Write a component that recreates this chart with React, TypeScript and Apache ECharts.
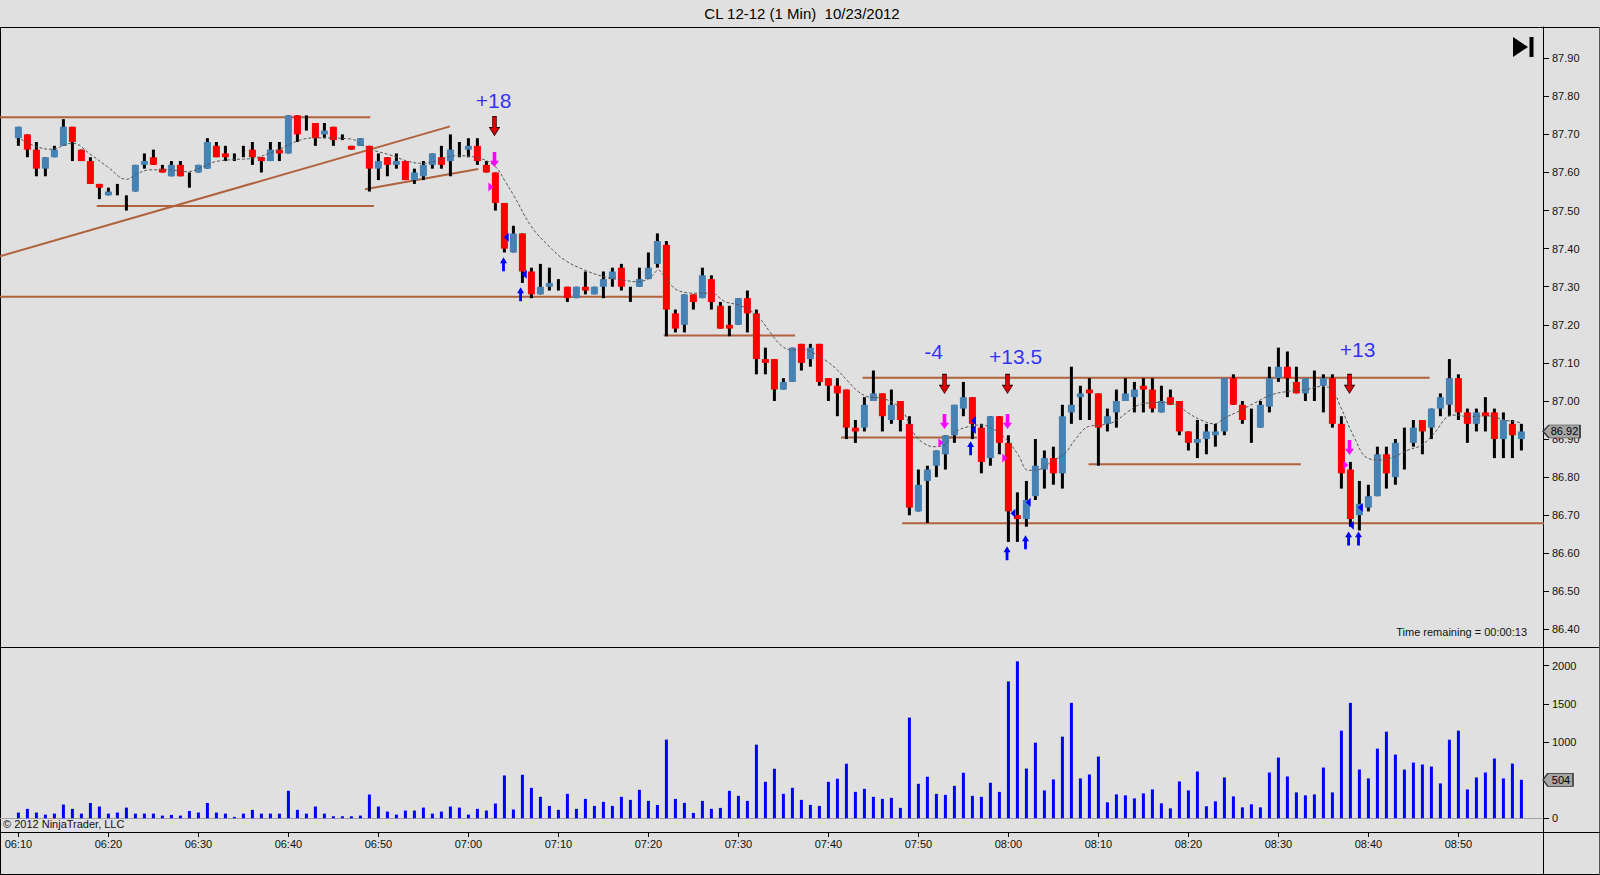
import React, { useEffect, useRef } from "react";
import * as echarts from "echarts";

// ---------- data ----------
const timeLabels = ["06:10", "06:20", "06:30", "06:40", "06:50", "07:00", "07:10", "07:20", "07:30", "07:40", "07:50", "08:00", "08:10", "08:20", "08:30", "08:40", "08:50"];
const tickIndex = [0, 10, 20, 30, 40, 50, 60, 70, 80, 90, 100, 110, 120, 130, 140, 150, 160];

const opens = [
  87.69, 87.70, 87.66, 87.61, 87.64, 87.67, 87.72, 87.66, 87.63, 87.57,
  87.54, 87.55, 87.53, 87.55, 87.62, 87.64, 87.61, 87.59, 87.62, 87.60,
  87.60, 87.61, 87.67, 87.65, 87.64, 87.655, 87.66, 87.64, 87.63, 87.66,
  87.65, 87.75, 87.72, 87.73, 87.70, 87.72, 87.70, 87.67, 87.67, 87.67,
  87.61, 87.64, 87.62, 87.63, 87.58, 87.59, 87.62, 87.64, 87.63, 87.66,
  87.66, 87.67, 87.62, 87.60, 87.52, 87.39, 87.44, 87.34, 87.28, 87.30,
  87.31, 87.30, 87.27, 87.30, 87.28, 87.30, 87.32, 87.35, 87.30, 87.30,
  87.32, 87.36, 87.41, 87.23, 87.20, 87.28, 87.27, 87.32, 87.25, 87.20,
  87.20, 87.27, 87.23, 87.11, 87.11, 87.03, 87.05, 87.15, 87.11, 87.15,
  87.06, 87.04, 87.03, 86.93, 86.93, 87.00, 87.02, 86.95, 87.00, 86.94,
  86.71, 86.79, 86.83, 86.86, 86.91, 86.98, 87.01, 86.93, 86.85, 86.96,
  86.89, 86.70, 86.69, 86.75, 86.82, 86.85, 86.81, 86.97, 87.01, 87.03,
  87.02, 86.94, 86.97, 87.00, 87.01, 87.04, 87.03, 86.97, 87.01, 87.00,
  86.92, 86.89, 86.90, 86.91, 86.92, 87.06, 86.99, 86.96, 86.93, 86.985,
  87.06, 87.09, 87.05, 87.02, 87.06, 87.04, 87.06, 86.94, 86.82, 86.70,
  86.72, 86.75, 86.86, 86.80, 86.88, 86.89, 86.95, 86.93, 86.98, 86.99,
  87.06, 86.97, 86.94, 86.97, 86.97, 86.90, 86.94, 86.90,
];
const highs = [
  87.72, 87.70, 87.68, 87.64, 87.67, 87.74, 87.72, 87.66, 87.64, 87.57,
  87.56, 87.57, 87.54, 87.62, 87.65, 87.66, 87.62, 87.63, 87.63, 87.60,
  87.62, 87.69, 87.68, 87.67, 87.65, 87.67, 87.68, 87.64, 87.68, 87.68,
  87.75, 87.75, 87.75, 87.73, 87.73, 87.72, 87.70, 87.67, 87.69, 87.67,
  87.65, 87.64, 87.65, 87.63, 87.61, 87.63, 87.65, 87.67, 87.70, 87.68,
  87.69, 87.69, 87.63, 87.60, 87.52, 87.46, 87.44, 87.35, 87.36, 87.35,
  87.32, 87.30, 87.30, 87.34, 87.30, 87.34, 87.35, 87.36, 87.30, 87.35,
  87.39, 87.44, 87.42, 87.24, 87.28, 87.28, 87.35, 87.33, 87.26, 87.25,
  87.27, 87.29, 87.24, 87.14, 87.11, 87.06, 87.14, 87.15, 87.15, 87.15,
  87.06, 87.06, 87.03, 86.95, 87.01, 87.08, 87.02, 87.03, 87.00, 86.96,
  86.82, 86.83, 86.87, 86.91, 86.99, 87.05, 87.01, 86.94, 86.96, 86.96,
  86.91, 86.76, 86.79, 86.90, 86.87, 86.88, 86.99, 87.09, 87.04, 87.06,
  87.02, 86.98, 87.03, 87.06, 87.05, 87.06, 87.06, 87.04, 87.03, 87.00,
  86.92, 86.95, 86.94, 86.94, 87.06, 87.07, 87.00, 86.98, 87.00, 87.09,
  87.14, 87.13, 87.09, 87.06, 87.08, 87.07, 87.07, 86.96, 86.84, 86.79,
  86.78, 86.88, 86.88, 86.90, 86.93, 86.95, 86.95, 86.98, 87.02, 87.11,
  87.07, 86.98, 86.98, 87.01, 86.98, 86.97, 86.95, 86.94,
];
const lows = [
  87.67, 87.64, 87.59, 87.59, 87.64, 87.67, 87.63, 87.63, 87.57, 87.53,
  87.54, 87.54, 87.50, 87.55, 87.61, 87.62, 87.60, 87.59, 87.59, 87.56,
  87.60, 87.61, 87.64, 87.63, 87.63, 87.64, 87.62, 87.60, 87.63, 87.63,
  87.65, 87.68, 87.71, 87.67, 87.69, 87.67, 87.685, 87.66, 87.67, 87.55,
  87.58, 87.59, 87.61, 87.58, 87.57, 87.58, 87.61, 87.61, 87.59, 87.64,
  87.64, 87.62, 87.60, 87.50, 87.39, 87.39, 87.31, 87.27, 87.28, 87.29,
  87.29, 87.26, 87.27, 87.28, 87.28, 87.27, 87.30, 87.29, 87.26, 87.30,
  87.32, 87.35, 87.17, 87.18, 87.18, 87.24, 87.27, 87.24, 87.19, 87.17,
  87.20, 87.18, 87.07, 87.07, 87.00, 87.03, 87.05, 87.08, 87.09, 87.04,
  87.00, 86.96, 86.90, 86.89, 86.92, 87.00, 86.92, 86.94, 86.92, 86.70,
  86.71, 86.68, 86.80, 86.82, 86.89, 86.96, 86.90, 86.81, 86.83, 86.86,
  86.63, 86.63, 86.67, 86.74, 86.77, 86.78, 86.77, 86.94, 86.95, 86.95,
  86.83, 86.92, 86.93, 87.00, 86.97, 86.97, 86.97, 86.97, 86.99, 86.91,
  86.87, 86.85, 86.86, 86.88, 86.91, 86.99, 86.94, 86.89, 86.93, 86.97,
  87.05, 87.01, 87.02, 87.00, 87.00, 86.97, 86.93, 86.77, 86.67, 86.66,
  86.71, 86.75, 86.77, 86.78, 86.82, 86.88, 86.86, 86.90, 86.96, 86.96,
  86.95, 86.89, 86.92, 86.92, 86.85, 86.85, 86.85, 86.87,
];
const closes = [
  87.72, 87.66, 87.61, 87.64, 87.66, 87.72, 87.68, 87.63, 87.57, 87.56,
  87.55, 87.55, 87.53, 87.62, 87.63, 87.62, 87.60, 87.62, 87.59, 87.60,
  87.62, 87.68, 87.64, 87.64, 87.64, 87.655, 87.64, 87.63, 87.66, 87.65,
  87.75, 87.70, 87.72, 87.69, 87.71, 87.685, 87.70, 87.66, 87.69, 87.61,
  87.63, 87.62, 87.63, 87.58, 87.60, 87.62, 87.65, 87.62, 87.66, 87.66,
  87.67, 87.63, 87.60, 87.52, 87.40, 87.44, 87.34, 87.28, 87.30, 87.31,
  87.31, 87.27, 87.30, 87.29, 87.30, 87.32, 87.34, 87.30, 87.30, 87.32,
  87.35, 87.42, 87.24, 87.19, 87.28, 87.26, 87.33, 87.26, 87.19, 87.19,
  87.27, 87.23, 87.11, 87.10, 87.03, 87.05, 87.14, 87.10, 87.14, 87.05,
  87.04, 87.02, 86.93, 86.92, 86.99, 87.02, 86.96, 86.99, 86.95, 86.72,
  86.78, 86.82, 86.87, 86.91, 86.99, 87.01, 86.94, 86.84, 86.96, 86.89,
  86.71, 86.69, 86.74, 86.83, 86.85, 86.81, 86.96, 86.99, 87.02, 87.02,
  86.93, 86.96, 87.00, 87.02, 87.03, 87.03, 86.98, 87.00, 86.99, 86.92,
  86.89, 86.90, 86.92, 86.92, 87.06, 86.99, 86.95, 86.96, 86.99, 87.06,
  87.09, 87.06, 87.02, 87.06, 87.06, 87.06, 86.94, 86.81, 86.69, 86.73,
  86.75, 86.86, 86.81, 86.89, 86.88, 86.93, 86.92, 86.98, 87.01, 87.06,
  86.97, 86.94, 86.97, 86.96, 86.90, 86.95, 86.91, 86.92,
];
const volumes = [
  75, 123, 75, 48, 61, 180, 123, 61, 200, 154,
  61, 75, 140, 61, 61, 61, 35, 44, 35, 96,
  75, 200, 75, 61, 18, 61, 110, 61, 61, 61,
  360, 110, 61, 154, 61, 26, 26, 26, 35, 311,
  154, 88, 48, 101, 101, 140, 61, 88, 154, 140,
  48, 123, 101, 193, 561, 114, 570, 399, 281, 162,
  110, 320, 123, 254, 162, 215, 162, 281, 241, 373,
  228, 175, 1031, 254, 202, 70, 228, 123, 136, 360,
  294, 228, 965, 478, 649, 320, 399, 241, 175, 162,
  478, 518, 715, 346, 386, 281, 254, 268, 136, 1320,
  452, 544, 320, 307, 425, 596, 294, 281, 465, 346,
  1794, 2057, 652, 991, 365, 509, 1070, 1513, 522, 574,
  809, 209, 313, 300, 261, 326, 378, 196, 130, 483,
  365, 613, 157, 222, 535, 287, 143, 183, 143, 600,
  796, 548, 339, 300, 313, 665, 339, 1148, 1513, 639,
  522, 913, 1135, 835, 639, 730, 704, 678, 457, 1030,
  1148, 378, 535, 600, 783, 522, 717, 504,
];

// moving average: [bar, value]
const maPoints = [
  [0.3, 87.687], [2, 87.668], [3.6, 87.661], [6, 87.677], [8.1, 87.646], [9.9, 87.615], [12, 87.582],
  [13.3, 87.598], [14.7, 87.607], [16.6, 87.607], [18.8, 87.602], [20.3, 87.613], [21.8, 87.628],
  [24, 87.634], [26, 87.637], [28.5, 87.656], [31.3, 87.685], [33.1, 87.691], [36.9, 87.688],
  [38.9, 87.663], [41.3, 87.646], [43.5, 87.628], [45, 87.624], [46.5, 87.631], [48.7, 87.644],
  [51.3, 87.637], [53, 87.615], [54.2, 87.572], [55.1, 87.537], [57, 87.458], [58.8, 87.41],
  [60.7, 87.37], [62.9, 87.344], [65.1, 87.326], [67, 87.318], [68.9, 87.313], [70.3, 87.326],
  [71.1, 87.344], [71.8, 87.326], [73.3, 87.29], [75.5, 87.283], [77, 87.283], [78.5, 87.261],
  [80, 87.252], [81.3, 87.238], [82.5, 87.213], [83.6, 87.178], [84.7, 87.147], [85.9, 87.134],
  [87, 87.136], [88.4, 87.125], [89.9, 87.103], [91, 87.081], [92.2, 87.051], [93.3, 87.025],
  [94.4, 87.011], [95.9, 87.007], [97.3, 86.994], [98.4, 86.968], [99.5, 86.915], [100.6, 86.889],
  [101.8, 86.88], [102.9, 86.884], [104, 86.917], [105.6, 86.933], [107, 86.937], [108.5, 86.924],
  [110, 86.893], [111.1, 86.858], [112.2, 86.818], [113.4, 86.82], [114.8, 86.841], [116.3, 86.863],
  [117.4, 86.898], [118.9, 86.933], [120.4, 86.937], [121.8, 86.946], [123.3, 86.972], [124.8, 86.992],
  [126.6, 86.996], [128.5, 86.992], [130, 86.968], [131.4, 86.95], [132.9, 86.94], [134, 86.955],
  [135.5, 86.972], [137.3, 86.994], [139.2, 87.016], [141, 87.025], [142.9, 87.029], [144.7, 87.038],
  [145.8, 87.033], [146.9, 86.985], [148.4, 86.906], [149.9, 86.85], [151.4, 86.845], [152.9, 86.854],
  [154.4, 86.871], [155.9, 86.884], [157.3, 86.915], [158.8, 86.959], [159.6, 86.963], [161.1, 86.959],
  [163.3, 86.961], [165.1, 86.95], [167, 86.943],
];

// drawn lines: [fromBar, fromPrice, toBar, toPrice]
const trendLines = [
  [-2.05, 87.745, 39.1, 87.745],
  [8.7, 87.512, 39.5, 87.512],
  [-2.05, 87.38, 47.96, 87.721],
  [-2.05, 87.274, 71.6, 87.274],
  [38.5, 87.556, 51.1, 87.609],
  [71.7, 87.172, 86.3, 87.172],
  [93.8, 87.061, 156.8, 87.061],
  [91.4, 86.904, 106.5, 86.904],
  [118.9, 86.834, 142.5, 86.834],
  [98.2, 86.679, 170, 86.679],
];

const priceTicks = [86.4, 86.5, 86.6, 86.7, 86.8, 86.9, 87.0, 87.1, 87.2, 87.3, 87.4, 87.5, 87.6, 87.7, 87.8, 87.9];
const volumeTicks = [0, 500, 1000, 1500, 2000];

// trade markers: [bar, price]
const entryArrows = [[52.9, 87.722], [102.9, 87.045], [109.9, 87.045], [147.9, 87.045]];
const exitArrows = [[52.9, 87.634], [102.9, 86.946], [109.9, 86.946], [147.9, 86.878]];
const exitTriangles = [[52.5, 87.562], [102.5, 86.89], [109.6, 86.85], [147.5, 86.832]];
const fillArrows = [[53.9, 87.359], [55.8, 87.28], [105.8, 86.876], [109.85, 86.6], [111.9, 86.629], [147.8, 86.639], [148.9, 86.639]];
const fillTriangles = [[54.2, 87.43], [56.2, 87.333], [106.1, 86.948], [106.1, 86.925], [110.5, 86.705], [112.2, 86.734], [148.1, 86.674], [149.1, 86.72]];
const tradeLabels = [
  { bar: 52.8, price: 87.79, text: "+18" },
  { bar: 101.7, price: 87.13, text: "-4" },
  { bar: 110.8, price: 87.117, text: "+13.5" },
  { bar: 148.8, price: 87.136, text: "+13" },
];

const titleText = "CL 12-12 (1 Min)  10/23/2012";
const timeRemaining = "Time remaining = 00:00:13";
const copyright = "\u00A9 2012 NinjaTrader, LLC";

// ---------- style ----------
const FONT = '"Liberation Sans", Arial, sans-serif';
const BG = "#e0e0e0";
const UP = "#4682b4";
const DOWN = "#ff0000";
const BROWN = "#b0623c";
const XMIN = -18.4 / 9;
const XMAX = (1543 - 18.4) / 9;

function buildOption() {
  const candles = opens.map((o, i) => [i, o, closes[i], lows[i], highs[i]]);
  const lastClose = closes[closes.length - 1];
  const lastVol = volumes[volumes.length - 1];

  const lineSeries = trendLines.map((t) => ({
    type: "line",
    xAxisIndex: 0,
    yAxisIndex: 0,
    data: [[t[0], t[1]], [t[2], t[3]]],
    symbol: "none",
    silent: true,
    z: 1,
    lineStyle: { color: BROWN, width: 2 },
  }));

  const downArrow = "path://M3,0 L7,0 L7,11 L10,11 L5,19 L0,11 L3,11 Z";
  const upArrow = "path://M5,0 L10,8 L7,8 L7,19 L3,19 L3,8 L0,8 Z";
  const rightTri = "path://M0,0 L6,5 L0,10 Z";
  const leftTri = "path://M6,0 L0,5 L6,10 Z";
  const tagShape = "path://M0,7 L7,0 L44,0 L44,14 L7,14 Z";

  const markerSeries = (data: number[][], symbol: string, size: number[], color: string, border?: string) => ({
    type: "scatter",
    xAxisIndex: 0,
    yAxisIndex: 0,
    data,
    symbol,
    symbolSize: size,
    silent: true,
    clip: false,
    z: 5,
    itemStyle: { color, borderColor: border || color, borderWidth: border ? 0.8 : 0, opacity: 1 },
  });

  const yAxisBase = {
    type: "value",
    position: "right",
    splitLine: { show: false },
    axisLine: { show: true, onZero: false, lineStyle: { color: "#000", width: 1 } },
  };

  return {
    animation: false,
    backgroundColor: BG,
    textStyle: { fontFamily: FONT },
    grid: [
      { left: 0, top: 27, width: 1543, height: 620 },
      { left: 0, top: 647, width: 1543, height: 185 },
    ],
    xAxis: [
      { type: "value", gridIndex: 0, min: XMIN, max: XMAX, show: false, splitLine: { show: false }, axisLine: { onZero: false } },
      {
        type: "value",
        gridIndex: 1,
        min: XMIN,
        max: XMAX,
        splitLine: { show: false },
        axisLine: { show: true, onZero: false, lineStyle: { color: "#000", width: 1 } },
        axisTick: { show: true, customValues: tickIndex, length: 5, lineStyle: { color: "#000" } },
        axisLabel: {
          show: true,
          customValues: tickIndex,
          margin: 6,
          fontSize: 11,
          color: "#111",
          fontFamily: FONT,
          formatter: (v: number) => {
            const k = tickIndex.indexOf(Math.round(v));
            return k >= 0 ? timeLabels[k] : "";
          },
        },
      },
    ],
    yAxis: [
      {
        ...yAxisBase,
        gridIndex: 0,
        min: 86.354,
        max: 87.982,
        axisTick: { show: true, customValues: priceTicks, length: 6, lineStyle: { color: "#000" } },
        axisLabel: {
          show: true,
          customValues: priceTicks,
          margin: 9,
          fontSize: 11,
          color: "#111",
          fontFamily: FONT,
          formatter: (v: number) => v.toFixed(2),
        },
      },
      {
        ...yAxisBase,
        gridIndex: 1,
        min: -180,
        max: 2245,
        axisTick: { show: true, customValues: volumeTicks, length: 6, lineStyle: { color: "#000" } },
        axisLabel: {
          show: true,
          customValues: volumeTicks,
          margin: 9,
          fontSize: 11,
          color: "#111",
          fontFamily: FONT,
          formatter: (v: number) => String(Math.round(v)),
        },
      },
    ],
    series: [
      ...lineSeries,
      {
        type: "custom",
        xAxisIndex: 0,
        yAxisIndex: 0,
        data: candles,
        encode: { x: 0, y: [1, 2, 3, 4] },
        clip: true,
        z: 2,
        silent: true,
        renderItem: (params: any, api: any) => {
          const x = api.value(0);
          const o = api.value(1);
          const c = api.value(2);
          const l = api.value(3);
          const h = api.value(4);
          const po = api.coord([x, o]);
          const pc = api.coord([x, c]);
          const pl = api.coord([x, l]);
          const ph = api.coord([x, h]);
          const bw = api.size([1, 0])[0] * 0.78;
          const top = Math.min(po[1], pc[1]);
          const hh = Math.abs(po[1] - pc[1]);
          const children: any[] = [
            { type: "line", shape: { x1: ph[0], y1: ph[1], x2: pl[0], y2: pl[1] }, style: { stroke: "#000", lineWidth: 3 } },
          ];
          if (c !== o) {
            children.push({
              type: "rect",
              shape: { x: po[0] - bw / 2, y: top, width: bw, height: Math.max(hh, 1.5) },
              style: { fill: c > o ? UP : DOWN },
            });
          }
          return { type: "group", children };
        },
      },
      {
        type: "line",
        xAxisIndex: 0,
        yAxisIndex: 0,
        data: maPoints,
        symbol: "none",
        smooth: 0.4,
        silent: true,
        z: 4,
        lineStyle: { color: "#555", width: 1, type: [3, 2] },
      },
      markerSeries(entryArrows, downArrow, [10, 19], "#dd0000", "#300000"),
      markerSeries(exitArrows, downArrow, [9, 15], "#ff00ff"),
      markerSeries(exitTriangles, rightTri, [5, 9], "#ff00ff"),
      markerSeries(fillArrows, upArrow, [7, 14], "#0000ff"),
      markerSeries(fillTriangles, leftTri, [5, 9], "#0000ff"),
      {
        type: "scatter",
        xAxisIndex: 0,
        yAxisIndex: 0,
        data: tradeLabels.map((t) => ({ name: t.text, value: [t.bar, t.price] })),
        symbol: "circle",
        symbolSize: 2,
        itemStyle: { color: "rgba(0,0,0,0)" },
        silent: true,
        clip: false,
        z: 6,
        label: { show: true, position: "inside", formatter: "{b}", fontSize: 21, color: "#0000ff", fontFamily: FONT, textBorderWidth: 0 },
      },
      {
        type: "scatter",
        xAxisIndex: 0,
        yAxisIndex: 0,
        data: [{ name: lastClose.toFixed(2), value: [XMAX, lastClose] }],
        symbol: tagShape,
        symbolSize: [37, 13],
        symbolOffset: [18.5, 0],
        silent: true,
        clip: false,
        z: 10,
        itemStyle: { color: "#a6a6a6", borderColor: "#303030", borderWidth: 1, opacity: 1 },
        label: { show: true, position: "inside", offset: [3, 0], formatter: "{b}", fontSize: 11, color: "#000", fontFamily: FONT, textBorderWidth: 0 },
      },
      {
        type: "bar",
        xAxisIndex: 1,
        yAxisIndex: 1,
        data: volumes.map((v, i) => [i, v]),
        barWidth: 3,
        silent: true,
        z: 3,
        itemStyle: { color: "#0000ff" },
        markLine: {
          silent: true,
          symbol: ["none", "none"],
          label: { show: false },
          lineStyle: { color: "#a4a4a4", width: 1, type: "solid" },
          data: [{ yAxis: 0 }],
          z: 1,
        },
      },
      {
        type: "scatter",
        xAxisIndex: 1,
        yAxisIndex: 1,
        data: [{ name: String(lastVol), value: [XMAX, lastVol] }],
        symbol: tagShape,
        symbolSize: [30, 13],
        symbolOffset: [15, 0],
        silent: true,
        clip: false,
        z: 10,
        itemStyle: { color: "#a6a6a6", borderColor: "#303030", borderWidth: 1, opacity: 1 },
        label: { show: true, position: "inside", offset: [3, 0], formatter: "{b}", fontSize: 11, color: "#000", fontFamily: FONT, textBorderWidth: 0 },
      },
    ],
    graphic: [
      { type: "line", silent: true, shape: { x1: 0, y1: 27.5, x2: 1600, y2: 27.5 }, style: { stroke: "#000", lineWidth: 1 } },
      { type: "line", silent: true, shape: { x1: 0, y1: 647.5, x2: 1600, y2: 647.5 }, style: { stroke: "#000", lineWidth: 1 } },
      { type: "line", silent: true, shape: { x1: 0, y1: 874.5, x2: 1600, y2: 874.5 }, style: { stroke: "#000", lineWidth: 1 } },
      { type: "line", silent: true, shape: { x1: 0.5, y1: 27, x2: 0.5, y2: 875 }, style: { stroke: "#000", lineWidth: 1 } },
      { type: "line", silent: true, shape: { x1: 1599.5, y1: 27, x2: 1599.5, y2: 875 }, style: { stroke: "#555", lineWidth: 1 } },
      { type: "line", silent: true, shape: { x1: 1543.5, y1: 832, x2: 1543.5, y2: 875 }, style: { stroke: "#000", lineWidth: 1 } },
      { type: "line", silent: true, shape: { x1: 1543, y1: 832.5, x2: 1600, y2: 832.5 }, style: { stroke: "#000", lineWidth: 1 } },
      {
        type: "text",
        silent: true,
        x: 802,
        y: 13,
        style: { text: titleText, fill: "#000", fontSize: 15, fontFamily: FONT, textAlign: "center", textVerticalAlign: "middle" },
      },
      {
        type: "text",
        silent: true,
        x: 1527,
        y: 632,
        style: { text: timeRemaining, fill: "#111", fontSize: 11, fontFamily: FONT, textAlign: "right", textVerticalAlign: "middle" },
      },
      {
        type: "text",
        silent: true,
        x: 3,
        y: 824,
        style: { text: copyright, fill: "#111", fontSize: 11, fontFamily: FONT, textAlign: "left", textVerticalAlign: "middle" },
      },
      { type: "polygon", silent: true, shape: { points: [[1513, 37], [1528, 47], [1513, 57]] }, style: { fill: "#000" } },
      { type: "rect", silent: true, shape: { x: 1529.5, y: 37, width: 4, height: 20 }, style: { fill: "#000" } },
    ],
  };
}

export default function App() {
  const ref = useRef<HTMLDivElement>(null);
  useEffect(() => {
    document.body.style.margin = "0";
    const chart = echarts.init(ref.current as HTMLDivElement, undefined, { renderer: "svg" });
    chart.setOption(buildOption() as any);
    return () => chart.dispose();
  }, []);
  return <div ref={ref} style={{ position: "absolute", left: 0, top: 0, width: 1600, height: 875, background: BG }} />;
}
